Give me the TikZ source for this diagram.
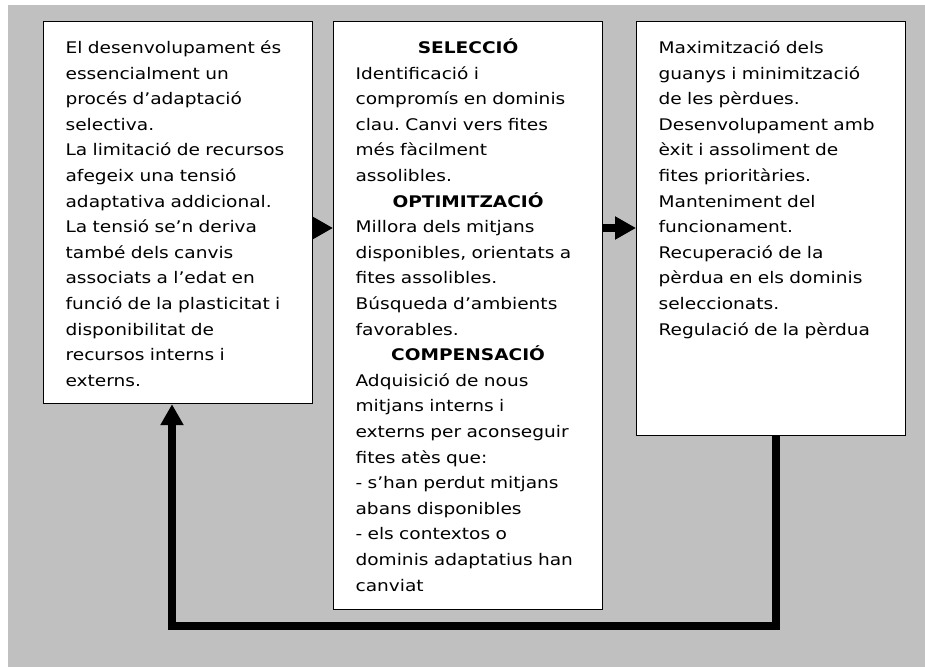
\documentclass[tikz,border=0pt]{standalone}
\usepackage{fontspec}
\setmainfont{DejaVu Sans}[FakeStretch=1.16]
\frenchspacing
\usetikzlibrary{arrows.meta}
\definecolor{panelgray}{HTML}{C0C0C0}
\newcommand{\heading}[1]{{\centering\textbf{#1}\par}}

\begin{document}
\begin{tikzpicture}[x=0.75pt,y=-0.75pt,
  panel/.style={draw=black,line width=0.9pt,fill=white,anchor=north west,
    text width=168.75pt,align=left,inner xsep=16.5pt,inner ysep=0pt,
    text height=24pt,font=\fontsize{12pt}{19.2pt}\selectfont},
  flow/.style={line width=5.4pt,-{Triangle[width=16.5pt,length=15.75pt]}}]
\useasboundingbox (0,0) rectangle (925,667);
\fill[panelgray] (8,5) rectangle (925,667);
% the three boxes
\node[panel,text depth=262.5pt] (context) at (43,21) {El desenvolupament és\\
essencialment un\\
procés d’adaptació\\
selectiva.\\
La limitació de recursos\\
afegeix una tensió\\
adaptativa addicional.\\
La tensió se’n deriva\\
també dels canvis\\
associats a l’edat en\\
funció de la plasticitat i\\
disponibilitat de\\
recursos interns i\\
externs.};
\node[panel,text depth=417pt] (soc) at (333,21) {\heading{SELECCIÓ}
Identificació i\\
compromís en dominis\\
clau. Canvi vers fites\\
més fàcilment\\
assolibles.\par
\heading{OPTIMITZACIÓ}
Millora dels mitjans\\
disponibles, orientats a\\
fites assolibles.\\
Búsqueda d’ambients\\
favorables.\par
\heading{COMPENSACIÓ}
Adquisició de nous\\
mitjans interns i\\
externs per aconseguir\\
fites atès que:\\
- s’han perdut mitjans\\
abans disponibles\\
- els contextos o\\
dominis adaptatius han\\
canviat};
\node[panel,text depth=286.5pt] (outcome) at (636,21) {Maximització dels\\
guanys i minimització\\
de les pèrdues.\\
Desenvolupament amb\\
èxit i assoliment de\\
fites prioritàries.\\
Manteniment del\\
funcionament.\\
Recuperació de la\\
pèrdua en els dominis\\
seleccionats.\\
Regulació de la pèrdua};
% arrows
\coordinate (row) at (0,228);
\coordinate (loopR) at (776,626);
\coordinate (loopL) at (172,626);
\draw[flow] (context.east |- row) -- (soc.west |- row);
\draw[flow] (soc.east |- row) -- (outcome.west |- row);
\draw[flow] (outcome.south -| loopR) -- (loopR) -- (loopL) -- (context.south -| loopL);
\end{tikzpicture}
\end{document}
